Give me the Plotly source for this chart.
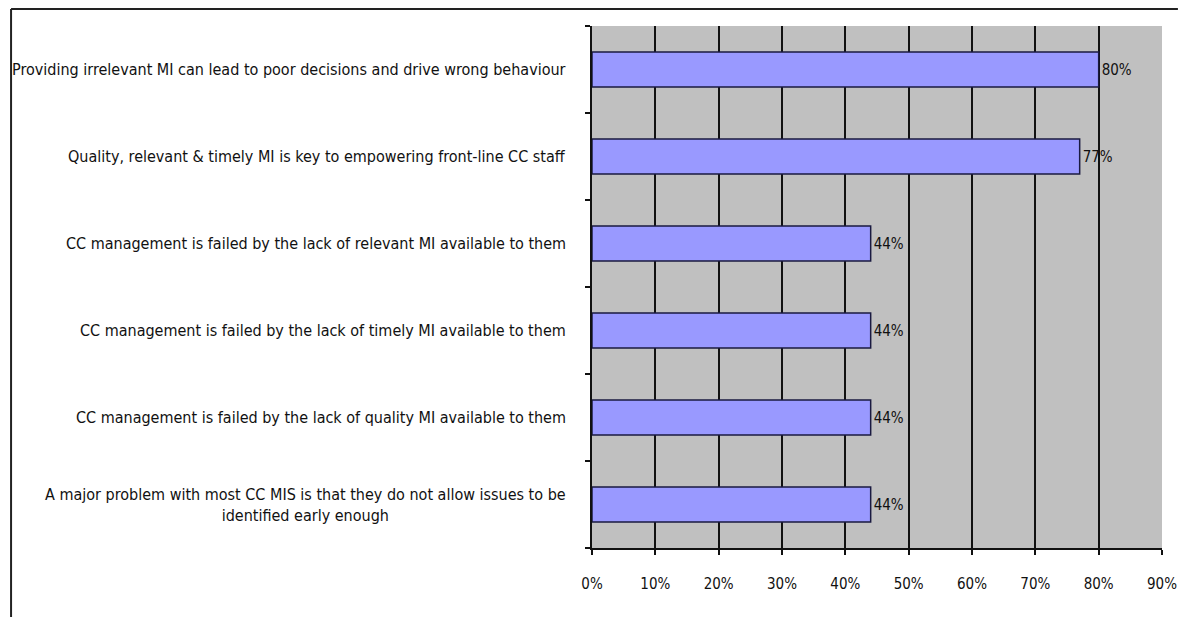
import plotly.graph_objects as go

# Survey statements (top to bottom) and share of respondents agreeing
statements = [
    "Providing irrelevant MI can lead to poor decisions and drive wrong behaviour",
    "Quality, relevant & timely MI is key to empowering front-line CC staff",
    "CC management is failed by the lack of relevant MI available to them",
    "CC management is failed by the lack of timely MI available to them",
    "CC management is failed by the lack of quality MI available to them",
    "A major problem with most CC MIS is that they do not allow issues to be<br>identified early enough",
]
agree_pct = [80, 77, 44, 44, 44, 44]
x_ticks = [0, 10, 20, 30, 40, 50, 60, 70, 80, 90]
x_tick_labels = [f"{t}%" for t in x_ticks]

cat_ids = [f"s{i}" for i in range(len(statements))]

LABEL_FONT = "Liberation Sans Narrow, Arial Narrow, DejaVu Sans Condensed, sans-serif"

fig = go.Figure(
    go.Bar(
        y=cat_ids,
        x=agree_pct,
        orientation="h",
        width=0.4,
        marker=dict(color="#9999FF", line=dict(color="#1a1a40", width=1.5)),
        text=[f"{v}%" for v in agree_pct],
        textposition="outside",
        textfont=dict(family=LABEL_FONT, size=15, color="#111111"),
        cliponaxis=False,
        hoverinfo="skip",
    )
)

# Category labels: right-aligned, wrapped label centred on itself
for cid, label in zip(cat_ids, statements):
    fig.add_annotation(
        x=0, xref="paper", xanchor="right", xshift=-24,
        y=cid, yref="y", yanchor="middle",
        text=label, align="center", showarrow=False,
        font=dict(family=LABEL_FONT, size=16, color="#111111"),
    )

# Chart frame (top and left edges)
PX_W, PX_H = 573, 522
fig.add_shape(type="line", xref="paper", yref="paper",
              x0=(8 - 592) / PX_W, x1=(1181 - 592) / PX_W,
              y0=(548 - 9) / PX_H, y1=(548 - 9) / PX_H,
              line=dict(color="#222222", width=2))
fig.add_shape(type="line", xref="paper", yref="paper",
              x0=(8 - 592) / PX_W, x1=(8 - 592) / PX_W,
              y0=-80 / PX_H, y1=(548 - 9) / PX_H,
              line=dict(color="#222222", width=2))

fig.update_layout(
    width=1189, height=617,
    margin=dict(l=592, r=24, t=26, b=69),
    paper_bgcolor="white",
    plot_bgcolor="#C0C0C0",
    showlegend=False,
    bargap=0.6,
    xaxis=dict(
        range=[0, 90],
        tickvals=x_ticks, ticktext=x_tick_labels,
        showgrid=True, gridcolor="#111111", gridwidth=1.5,
        zeroline=False,
        showline=True, linecolor="#111111", linewidth=1.5,
        ticks="outside", ticklen=5, tickcolor="#111111", tickwidth=1.5,
        ticklabelstandoff=16,
        tickfont=dict(family=LABEL_FONT, size=15, color="#111111"),
        fixedrange=True,
    ),
    yaxis=dict(
        categoryorder="array", categoryarray=cat_ids[::-1],
        showticklabels=False,
        tickson="boundaries",
        ticks="outside", ticklen=5, tickcolor="#111111", tickwidth=1.5,
        showgrid=False, zeroline=False,
        showline=True, linecolor="#111111", linewidth=1.5,
        range=[-0.5, 5.5],
        fixedrange=True,
    ),
)

fig.write_html("out.html")
